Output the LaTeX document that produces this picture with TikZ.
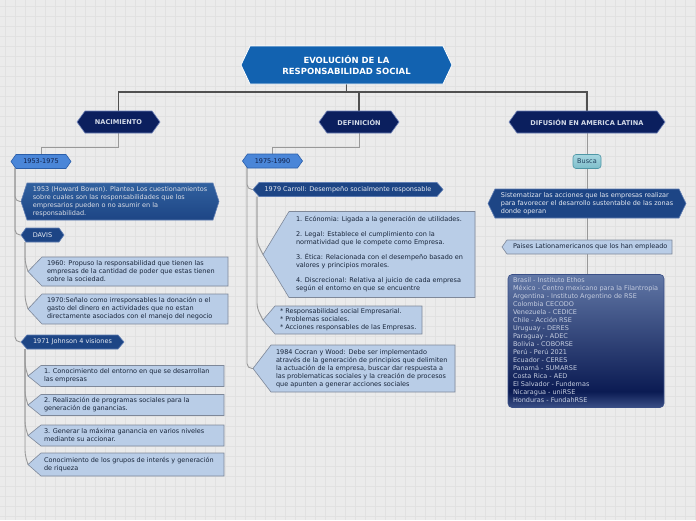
\documentclass[tikz,border=0pt]{standalone}
\usepackage{fontspec}
\setmainfont{DejaVu Sans}
\pgfdeclarelayer{gridlayer}
\pgfdeclarelayer{linelayer}
\pgfdeclarelayer{shapelayer}
\pgfsetlayers{gridlayer,linelayer,shapelayer,main}
\definecolor{bgc}{HTML}{EBEBEB}
\definecolor{gridc}{HTML}{E1E1E1}
\definecolor{titlec}{HTML}{1262B0}
\definecolor{navyc}{HTML}{0B1F5E}
\definecolor{navyb}{HTML}{6E82B8}
\definecolor{navyt}{HTML}{D3DAE8}
\definecolor{midc}{HTML}{4A86D8}
\definecolor{midb}{HTML}{2B5FAA}
\definecolor{midt}{HTML}{0E1E48}
\definecolor{darkc}{HTML}{1D4585}
\definecolor{darkb}{HTML}{5F7DB2}
\definecolor{darkt}{HTML}{E6EAF2}
\definecolor{bowtop}{HTML}{31619F}
\definecolor{lightc}{HTML}{B9CDE7}
\definecolor{lightb}{HTML}{7E8899}
\definecolor{lightt}{HTML}{18253A}
\definecolor{buscatop}{HTML}{A6D6E0}
\definecolor{buscabot}{HTML}{7EBECA}
\definecolor{buscab}{HTML}{4F97A6}
\definecolor{buscat}{HTML}{1F3F5C}
\definecolor{ctop}{HTML}{6177A6}
\definecolor{cmid}{HTML}{0B1B53}
\definecolor{cbot}{HTML}{3A4F86}
\definecolor{ctext}{HTML}{C5CDE0}
\definecolor{lnc}{HTML}{999999}
\definecolor{toplnc}{HTML}{505050}
\pgfdeclareverticalshading{ctryshade}{100bp}{color(0bp)=(cbot); color(25bp)=(cbot); color(31bp)=(cmid); color(75bp)=(ctop); color(100bp)=(ctop)}
\newcommand\smallfs{\fontsize{6.5}{8}\selectfont}
\newcommand\hexa[3]{\path[#1] (#2.west) -- ([xshift=#3pt]#2.north west) -- ([xshift=-#3pt]#2.north east) -- (#2.east) -- ([xshift=-#3pt]#2.south east) -- ([xshift=#3pt]#2.south west) -- cycle;}
\newcommand\penta[3]{\path[#1] ([xshift=-#3pt]#2.west) -- (#2.north west) -- (#2.north east) -- (#2.south east) -- (#2.south west) -- cycle;}
\newcommand\tb[2]{\makebox[#1pt][l]{\begin{tabular}{@{}l@{}}#2\end{tabular}}}
\tikzset{
  basen/.style={inner sep=0pt, outer sep=0pt, font=\smallfs},
  titlen/.style={basen, text=white, font=\fontsize{8.5}{11}\selectfont\bfseries, align=center},
  navyn/.style={basen, text=navyt, font=\fontsize{6.6}{8}\selectfont\bfseries},
  midn/.style={basen, text=midt},
  darkn/.style={basen, text=darkt, align=left},
  lightn/.style={basen, text=lightt, inner xsep=#1pt},
  buscan/.style={basen, text=buscat, rounded corners=3pt, draw=buscab, line width=0.6pt, top color=buscatop, bottom color=buscabot},
  ctryn/.style={basen, text=ctext, inner xsep=5pt, rounded corners=4pt, draw=cbot, line width=0.6pt, shading=ctryshade},
  titlef/.style={fill=titlec, draw=white, line width=0.8pt},
  navyf/.style={fill=navyc, draw=navyb, line width=0.6pt},
  midf/.style={fill=midc, draw=midb, line width=0.6pt},
  darkf/.style={fill=darkc, draw=darkb, line width=0.6pt},
  bowf/.style={top color=bowtop, bottom color=darkc, draw=darkb, line width=0.6pt},
  lightf/.style={fill=lightc, draw=lightb, line width=0.6pt},
  ln/.style={draw=lnc, line width=0.9pt},
  topln/.style={draw=toplnc, line width=1.1pt},
}
\begin{document}
\begin{tikzpicture}[x=1pt,y=-1pt]
\useasboundingbox (0,0) rectangle (696,520);
\begin{pgfonlayer}{gridlayer}
\fill[bgc] (0,0) rectangle (696,520);
\foreach \gx in {5,15,...,695} \draw[gridc, line width=0.5pt] (\gx,0) -- (\gx,520);
\foreach \gy in {6,16,...,516} \draw[gridc, line width=0.5pt] (0,\gy) -- (696,\gy);
\end{pgfonlayer}

% level 0 / 1
\node[titlen, minimum width=211, minimum height=38] (title) at (346.5,65) {EVOLUCIÓN DE LA\\RESPONSABILIDAD SOCIAL};
\node[navyn, minimum width=83, minimum height=22] (nac) at (118.5,122) {NACIMIENTO};
\node[navyn, minimum width=80, minimum height=22] (def) at (359,122) {DEFINICIÓN};
\node[navyn, minimum width=156, minimum height=22] (dif) at (587,122) {DIFUSIÓN EN AMERICA LATINA};

% left column
\node[midn, minimum width=60, minimum height=14] (d1) at (41,161.5) {1953-1975};
\node[darkn, text=darkt!95!black, minimum width=198, minimum height=37] (bowen) at (120,201.5) {1953 (Howard Bowen). Plantea Los cuestionamientos\\sobre cuales son las responsabilidades que los\\empresarios pueden o no asumir en la\\responsabilidad.};
\node[darkn, minimum width=43, minimum height=14] (davis) at (42.5,235) {DAVIS};
\node[lightn=5, minimum height=29] (b1960) at (135,271.5) {\tb{176}{1960: Propuso la responsabilidad que tienen las\\empresas de la cantidad de poder que estas tienen\\sobre la sociedad.}};
\node[lightn=5, minimum height=30] (b1970) at (135,309) {\tb{176}{1970:Señalo como irresponsables la donación o el\\gasto del dinero en actividades que no estan\\directamente asociados con el manejo del negocio}};
\node[darkn, minimum width=103, minimum height=14] (johnson) at (72.5,342) {1971 Johnson 4 visiones};
\node[lightn=3, minimum height=21] (v1) at (132.5,376) {\tb{177}{1. Conocimiento del entorno en que se desarrollan\\las empresas}};
\node[lightn=3, minimum height=21] (v2) at (132.5,405) {\tb{177}{2. Realización de programas sociales para la\\generación de ganancias.}};
\node[lightn=3, minimum height=21] (v3) at (132.5,435.5) {\tb{177}{3. Generar la máxima ganancia en varios niveles\\mediante su accionar.}};
\node[lightn=3, minimum height=23] (v4) at (132.5,464.5) {\tb{177}{Conocimiento de los grupos de interés y generación\\de riqueza}};

% middle column
\node[midn, minimum width=60, minimum height=14] (d2) at (272.5,161) {1975-1990};
\node[darkn, minimum width=190, minimum height=14] (carroll) at (348,189.5) {1979 Carroll: Desempeño socialmente responsable};
\node[lightn=7, minimum height=86] (big) at (382,254.5) {\tb{172}{1. Ecónomia: Ligada a la generación de utilidades.\\[7pt]2. Legal: Establece el cumplimiento con la\\normatividad que le compete como Empresa.\\[7pt]3. Ética: Relacionada con el desempeño basado en\\valores y principios morales.\\[7pt]4. Discrecional: Relativa al juicio de cada empresa\\según el entorno en que se encuentre}};
\node[lightn=5, minimum height=28] (bullets) at (348.5,320) {\tb{137}{* Responsabilidad social Empresarial.\\{}* Problemas sociales.\\{}* Acciones responsables de las Empresas.}};
\node[lightn=5, minimum height=47] (cocran) at (363,368.5) {\tb{174}{1984 Cocran y Wood: Debe ser implementado\\através de la generación de principios que delimiten\\la actuación de la empresa, buscar dar respuesta a\\las problematicas sociales y la creación de procesos\\que apunten a generar acciones sociales}};

% right column
\node[buscan, minimum width=28, minimum height=14] (busca) at (587,161.5) {Busca};
\node[darkn, minimum width=198, minimum height=29] (sist) at (587,203.5) {Sistematizar las acciones que las empresas realizar\\para favorecer el desarrollo sustentable de las zonas\\donde operan};
\node[lightn=6, minimum height=14] (paises) at (589.5,247) {\tb{153}{Paises Lationamericanos que los han empleado}};
\node[ctryn, minimum height=133] (countries) at (586,341) {\tb{146}{Brasil - Instituto Ethos\\México - Centro mexicano para la Filantropia\\Argentina - Instituto Argentino de RSE\\Colombia CECODO\\Venezuela - CEDICE\\Chile - Acción RSE\\Uruguay - DERES\\Paraguay - ADEC\\Bolivia - COBORSE\\Perú - Perú 2021\\Ecuador - CERES\\Panamá - SUMARSE\\Costa Rica - AED\\El Salvador - Fundemas\\Nicaragua - uniRSE\\Honduras - FundahRSE}};

% shapes
\begin{pgfonlayer}{shapelayer}
\hexa{titlef}{title}{9}
\hexa{navyf}{nac}{8}
\hexa{navyf}{def}{8}
\hexa{navyf}{dif}{8}
\hexa{midf}{d1}{5}
\hexa{midf}{d2}{5}
\hexa{bowf}{bowen}{6}
\hexa{darkf}{davis}{5}
\hexa{darkf}{johnson}{6}
\hexa{darkf}{carroll}{6}
\hexa{darkf}{sist}{7}
\penta{lightf}{b1960}{14}
\penta{lightf}{b1970}{14}
\penta{lightf}{v1}{13}
\penta{lightf}{v2}{13}
\penta{lightf}{v3}{13}
\penta{lightf}{v4}{13}
\penta{lightf}{big}{26}
\penta{lightf}{bullets}{12}
\penta{lightf}{cocran}{18}
\penta{lightf}{paises}{5}
\end{pgfonlayer}

% connectors
\begin{pgfonlayer}{linelayer}
\coordinate (hub) at (346.5,92);
\draw[topln] (title.south) -- (hub);
\draw[topln] (hub) -| (nac.north);
\draw[topln] (hub) -| (def.north);
\draw[topln] (hub) -| (dif.north);
\draw[ln] (nac.south) -- ++(0,14) -| (d1.north);
\draw[ln] (def.south) -- ++(0,14) -| (d2.north);
\draw[ln] (dif.south) -- (busca.north);
\draw[ln] (busca.south) -- (sist.north);
\draw[ln] (sist.south) -- (sist.south |- paises.north);
\draw[ln] (sist.south |- paises.south) -- (sist.south |- countries.north);
% left trunk
\draw[ln, rounded corners=5] ([xshift=4pt,yshift=1pt]d1.south west) |- (bowen.west);
\draw[ln, rounded corners=5] ([xshift=4pt,yshift=1pt]d1.south west) |- (davis.west);
\draw[ln, rounded corners=5] ([xshift=4pt,yshift=1pt]d1.south west) |- (johnson.west);
% davis
\draw[ln, rounded corners=4] ([xshift=4pt]davis.south west) -- ([xshift=-17pt,yshift=10pt]b1960.west) -- ([xshift=-14pt]b1960.west);
\draw[ln, rounded corners=4] ([xshift=4pt]davis.south west) -- ([xshift=-17pt,yshift=10pt]b1970.west) -- ([xshift=-14pt]b1970.west);
% johnson
\draw[ln, rounded corners=4] ([xshift=4pt]johnson.south west) -- ([xshift=-16pt,yshift=10pt]v1.west) -- ([xshift=-13pt]v1.west);
\draw[ln, rounded corners=4] ([xshift=4pt]johnson.south west) -- ([xshift=-16pt,yshift=10pt]v2.west) -- ([xshift=-13pt]v2.west);
\draw[ln, rounded corners=4] ([xshift=4pt]johnson.south west) -- ([xshift=-16pt,yshift=10pt]v3.west) -- ([xshift=-13pt]v3.west);
\draw[ln, rounded corners=4] ([xshift=4pt]johnson.south west) -- ([xshift=-16pt,yshift=10pt]v4.west) -- ([xshift=-13pt]v4.west);
% middle trunk
\draw[ln, rounded corners=5] ([xshift=4.5pt,yshift=1pt]d2.south west) |- (carroll.west);
\draw[ln, rounded corners=5] ([xshift=4.5pt,yshift=1pt]d2.south west) |- ([xshift=-18pt]cocran.west);
% carroll
\draw[ln, rounded corners=5] ([xshift=4pt]carroll.south west) -- ([xshift=-32pt,yshift=12pt]big.west) -- ([xshift=-26pt]big.west);
\draw[ln, rounded corners=5] ([xshift=4pt]carroll.south west) -- ([xshift=-18pt,yshift=12pt]bullets.west) -- ([xshift=-12pt]bullets.west);
\end{pgfonlayer}
\end{tikzpicture}
\end{document}
